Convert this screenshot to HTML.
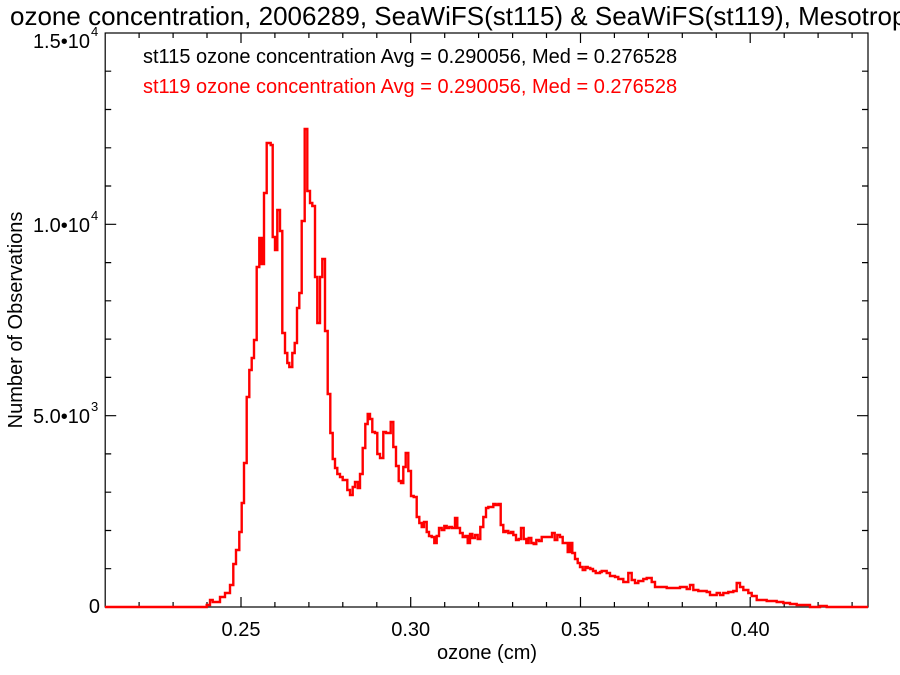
<!DOCTYPE html>
<html><head><meta charset="utf-8"><style>
html,body{margin:0;padding:0;background:#fff;}
svg{display:block;font-family:"Liberation Sans",Arial,sans-serif;}
</style></head><body>
<svg width="900" height="675" viewBox="0 0 900 675" xmlns="http://www.w3.org/2000/svg">
<rect width="900" height="675" fill="#fff"/>
<text x="10" y="25" font-size="26" fill="#000">ozone concentration, 2006289, SeaWiFS(st115) &amp; SeaWiFS(st119), Mesotrophic</text>
<g stroke="#000" stroke-width="1.2" fill="none">
<rect x="105.2" y="33" width="762.8" height="574"/>
<path d="M139.1,607v-5M173.1,607v-5M207,607v-5M241,607v-10M274.9,607v-5M308.9,607v-5M342.8,607v-5M376.8,607v-5M410.7,607v-10M444.7,607v-5M478.6,607v-5M512.6,607v-5M546.5,607v-5M580.5,607v-10M614.4,607v-5M648.4,607v-5M682.3,607v-5M716.3,607v-5M750.2,607v-10M784.2,607v-5M818.1,607v-5M852.1,607v-5"/>
<path d="M139.1,33v5M173.1,33v5M207,33v5M241,33v10M274.9,33v5M308.9,33v5M342.8,33v5M376.8,33v5M410.7,33v10M444.7,33v5M478.6,33v5M512.6,33v5M546.5,33v5M580.5,33v10M614.4,33v5M648.4,33v5M682.3,33v5M716.3,33v5M750.2,33v10M784.2,33v5M818.1,33v5M852.1,33v5"/>
<path d="M105.2,568.7h6M105.2,530.5h6M105.2,492.2h6M105.2,453.9h6M105.2,415.7h11M105.2,377.4h6M105.2,339.1h6M105.2,300.8h6M105.2,262.6h6M105.2,224.3h11M105.2,186h6M105.2,147.8h6M105.2,109.5h6M105.2,71.2h6"/>
<path d="M868,568.7h-6M868,530.5h-6M868,492.2h-6M868,453.9h-6M868,415.7h-11M868,377.4h-6M868,339.1h-6M868,300.8h-6M868,262.6h-6M868,224.3h-11M868,186h-6M868,147.8h-6M868,109.5h-6M868,71.2h-6"/>
</g>
<g font-size="20" fill="#000" text-anchor="middle">
<text x="241" y="636">0.25</text>
<text x="410.7" y="636">0.30</text>
<text x="580.5" y="636">0.35</text>
<text x="750.2" y="636">0.40</text>
<text x="487" y="659">ozone (cm)</text>
</g>
<g font-size="20" fill="#000" text-anchor="end">
<text x="100" y="613">0</text>
<text x="90" y="423">5.0•10</text><text x="91" y="411" font-size="13" text-anchor="start">3</text>
<text x="90" y="232">1.0•10</text><text x="91" y="220" font-size="13" text-anchor="start">4</text>
<text x="90" y="48">1.5•10</text><text x="91" y="36" font-size="13" text-anchor="start">4</text>
</g>
<text transform="translate(22,320) rotate(-90)" font-size="20" text-anchor="middle" fill="#000">Number of Observations</text>
<text x="143" y="63" font-size="20" fill="#000">st115 ozone concentration Avg = 0.290056, Med = 0.276528</text>
<text x="143" y="93" font-size="20" fill="#ff0000">st119 ozone concentration Avg = 0.290056, Med = 0.276528</text>
<g fill="none">
<path stroke="#ff0000" stroke-width="2.4" d="M105,607 H206.7 V605 H210 V600 H212.7 V602 H220 V597 H225 V593 H230 V585 H233.3 V564 H236 V550 H239.3 V532 H241.7 V503 H244 V463 H246.7 V397 H249.3 V370 H251.7 V358 H254 V340 H256.7 V267 H259.3 V238 H261.7 V264 H264 V193 H266.7 V143 H270.7 V145 H272.7 V237 H275 V250 H277.3 V210 H280 V231 H282.3 V333 H285 V353 H287.3 V363 H289.3 V367 H292.3 V353 H294.7 V343 H297 V308 H299.3 V293 H301.7 V221 H304.7 V129 H307.3 V191 H310 V203 H312.3 V206 H315 V277 H317.3 V323 H320 V277 H322.3 V259 H325 V331 H327.7 V394 H330.3 V433 H332.7 V459 H335 V468 H337.3 V474 H340 V477 H342.7 V480 H347.3 V490 H350 V495 H352.7 V487 H355 V482 H357.7 V488 H360 V474 H362.7 V448 H365.3 V424 H367.7 V414 H370 V419 H372.3 V432 H375 V433 H377.3 V454 H380 V458 H383.3 V432 H386 V433 H390.7 V422 H393.3 V447 H396 V466 H398.7 V481 H401 V483 H403.3 V467 H405.7 V453 H408.3 V471 H411 V496 H413.7 V497 H416.7 V517 H419.3 V523 H421.7 V527 H424 V522 H426.7 V532 H429 V536 H431.7 V537 H434.3 V543 H436.7 V536 H439 V528 H441.7 V530 H444.3 V526 H446.7 V528 H449.3 V527 H452 V528 H455 V518 H457.3 V528 H460 V533 H462.7 V537 H465.3 V536 H467.7 V543 H470 V534 H472.3 V538 H475 V535 H477.7 V539 H480.3 V527 H483.3 V517 H486 V508 H488.3 V507 H491 V507 H493.3 V504 H495.7 V505 H498.3 V504 H500.7 V525 H503.3 V532 H505.7 V531 H508.3 V533 H511 V532 H513.3 V535 H516 V540 H518.7 V539 H521 V528 H523.7 V539 H526.3 V543 H528.7 V538 H531.3 V543 H533.7 V544 H536.3 V540 H539 V541 H541.7 V537 H552 V533 H554.7 V540 H557.3 V535 H560 V537 H562.7 V543 H567.7 V552 H570 V543 H572.3 V553 H575 V559 H577.7 V563 H580 V567 H582.7 V570 H585.3 V567 H587.7 V568 H590.3 V569 H593 V571 H595.7 V573 H600 V572 H601.7 V571 H606.7 V573 H610 V576 H615 V577 H618.3 V579 H623.3 V582 H628.3 V573 H631.7 V580 H635 V583 H638.3 V581 H643.3 V579 H646.7 V578 H651.7 V582 H655 V587 H666.7 V588 H680 V587 H686.7 V589 H690 V585 H693.3 V590 H698.3 V591 H706.7 V592 H710 V595 H716.7 V593 H720 V595 H723.3 V593 H728.3 V592 H733.3 V591 H736.7 V583 H740 V587 H743.3 V590 H748.3 V593 H751.7 V596 H756.7 V600 H766.7 V601 H776.7 V602 H783.3 V603 H790 V604 H796.7 V605 H810 V607 H820 V606 H826.7 V607 H868"/>
</g>
</svg>
</body></html>
